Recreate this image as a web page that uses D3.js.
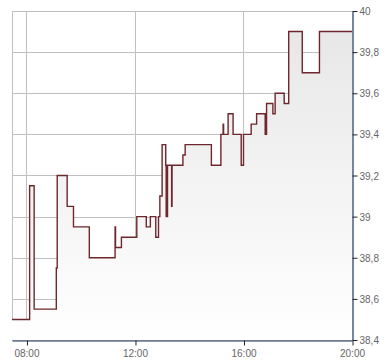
<!DOCTYPE html>
<html>
<head>
<meta charset="utf-8">
<script src="https://cdn.jsdelivr.net/npm/d3@7/dist/d3.min.js"></script>
<style>
  body { margin: 0; background: #fff; }
  svg text { font-family: "Liberation Sans", Arial, sans-serif; font-size: 10px; fill: #666; }
</style>
</head>
<body>
<div id="chart-area"></div>
<script>
// DATA (step quotes, time -> price)
var times = ["07:28","08:07","08:17","09:06","09:08","09:30","09:44","10:19","11:16","11:17",
             "11:30","12:04","12:25","12:34","12:46","12:52","12:55","13:00","13:08","13:09",
             "13:12","13:21","13:22","13:46","13:51","14:49","15:10","15:15","15:16","15:26",
             "15:37","15:55","16:00","16:17","16:29","16:48","16:51","17:05","17:10","17:30",
             "17:40","18:10","18:48","20:00"];
var prices = [38.5, 39.15, 38.55, 38.75, 39.2, 39.05, 38.95, 38.8, 38.95, 38.85,
              38.9, 39.0, 38.95, 39.0, 38.9, 39.0, 39.1, 39.35, 39.25, 39.0,
              39.25, 39.05, 39.25, 39.3, 39.35, 39.25, 39.4, 39.45, 39.4, 39.5,
              39.4, 39.25, 39.4, 39.45, 39.5, 39.4, 39.55, 39.5, 39.6, 39.55,
              39.9, 39.7, 39.9, 39.9];
var xTickLabels = ["08:00", "12:00", "16:00", "20:00"];
var yTickValues = [38.4, 38.6, 38.8, 39, 39.2, 39.4, 39.6, 39.8, 40];

var margin = { left: 12, right: 38, top: 11, bottom: 24 },
    width = 390 - margin.left - margin.right,
    height = 364 - margin.top - margin.bottom;

var parseTime = d3.timeParse("%H:%M");
var data = times.map((t, i) => ({ date: parseTime(t), value: prices[i] }));

var de = d3.formatLocale({ decimal: ",", thousands: ".", grouping: [3], currency: ["", " €"] });
var fmt = de.format(".1~f");

// Scales
var x = d3.scaleTime().domain([parseTime("07:28"), parseTime("20:00")]).range([0, width]);
var y = d3.scaleLinear().domain([38.4, 40]).range([height, 0]);

var svg = d3.select("#chart-area").append("svg")
    .attr("width", width + margin.left + margin.right)
    .attr("height", height + margin.top + margin.bottom);

var g = svg.append("g")
    .attr("transform", "translate(" + margin.left + "," + margin.top + ")");

// gradient for area
var grad = svg.append("defs").append("linearGradient")
    .attr("id", "fillGrad")
    .attr("gradientUnits", "userSpaceOnUse")
    .attr("x1", 0).attr("y1", 0).attr("x2", 0).attr("y2", height);
grad.append("stop").attr("offset", "0%").attr("stop-color", "#e6e6e6");
grad.append("stop").attr("offset", "100%").attr("stop-color", "#ffffff");

var snap = v => Math.round(v) + 0.5;

// Gridlines
g.selectAll(".hgrid")
    .data(yTickValues)
    .enter().append("line")
    .attr("class", "hgrid")
    .attr("x1", 0).attr("x2", width)
    .attr("y1", d => snap(y(d))).attr("y2", d => snap(y(d)))
    .attr("stroke", "#c0c0c0");

g.selectAll(".vgrid")
    .data(xTickLabels.slice(0, 3).map(parseTime).concat([parseTime("07:28")]))
    .enter().append("line")
    .attr("class", "vgrid")
    .attr("x1", d => snap(x(d))).attr("x2", d => snap(x(d)))
    .attr("y1", 0).attr("y2", height)
    .attr("stroke", "#c0c0c0");

// Area + step line
var area = d3.area()
    .curve(d3.curveStepAfter)
    .x(d => x(d.date))
    .y0(height)
    .y1(d => y(d.value));

var line = d3.line()
    .curve(d3.curveStepAfter)
    .x(d => x(d.date))
    .y(d => y(d.value));

g.append("path")
    .datum(data)
    .attr("fill", "url(#fillGrad)")
    .attr("d", area);

g.append("path")
    .datum(data)
    .attr("fill", "none")
    .attr("stroke", "#6e272c")
    .attr("stroke-width", 1.4)
    .attr("d", line);

// Axes
var xAxisCall = d3.axisBottom(x)
    .tickValues(xTickLabels.map(parseTime))
    .tickFormat(d3.timeFormat("%H:%M"))
    .tickSize(5)
    .tickSizeOuter(0)
    .tickPadding(2);

var yAxisCall = d3.axisRight(y)
    .tickValues(yTickValues)
    .tickFormat(fmt)
    .tickSize(5)
    .tickSizeOuter(0)
    .tickPadding(2);

var xAxis = g.append("g")
    .attr("transform", "translate(0," + (Math.round(height) + 0.5) + ")")
    .call(xAxisCall);

var yAxis = g.append("g")
    .attr("transform", "translate(" + (Math.round(width) + 0.5) + ",0)")
    .call(yAxisCall);

[xAxis, yAxis].forEach(a => {
    a.select(".domain").attr("stroke", "#1c3664").attr("stroke-width", 1.2);
    a.selectAll(".tick line").attr("stroke", "#222");
    a.selectAll(".tick text").attr("fill", "#666").style("font-size", "10px");
});
xAxis.selectAll(".tick line").attr("transform", "translate(0.5,0)");
xAxis.selectAll(".tick text").attr("dy", "0.9em");
yAxis.selectAll(".tick text").attr("dy", "0.35em");
</script>
</body>
</html>
